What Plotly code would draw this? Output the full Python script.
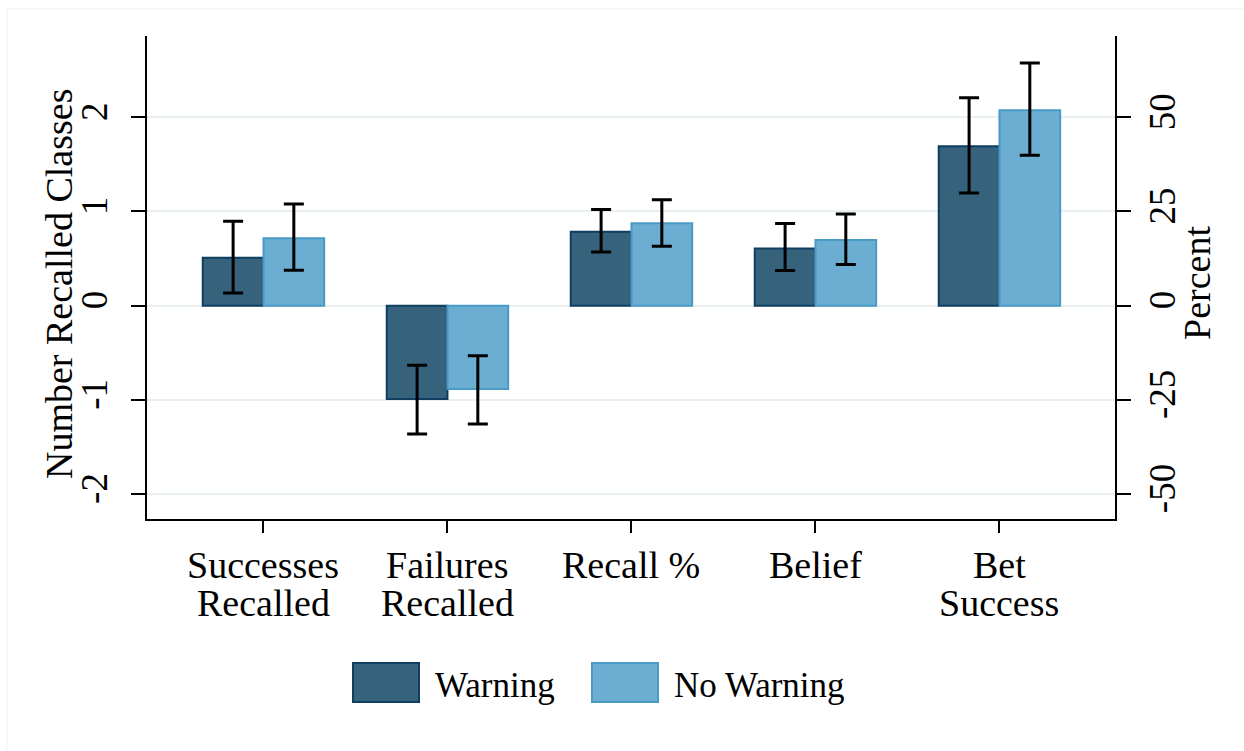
import plotly.graph_objects as go
import numpy as np

# ---- data -------------------------------------------------------------
categories = ["Successes Recalled", "Failures Recalled", "Recall %", "Belief", "Bet Success"]
category_lines = [["Successes", "Recalled"], ["Failures", "Recalled"], ["Recall %"], ["Belief"], ["Bet", "Success"]]

# outcomes measured in number of classes (left axis)
count_cats = ["Successes Recalled", "Failures Recalled"]
count_warning = [0.51, -0.99]
count_warning_lo = [0.135, -1.362]
count_warning_hi = [0.896, -0.633]
count_nowarning = [0.715, -0.884]
count_nowarning_lo = [0.376, -1.256]
count_nowarning_hi = [1.08, -0.531]

# outcomes measured in percent (right axis)
pct_cats = ["Recall %", "Belief", "Bet Success"]
pct_warning = [19.6, 15.2, 42.3]
pct_warning_lo = [14.25, 9.3, 29.9]
pct_warning_hi = [25.5, 21.8, 55.2]
pct_nowarning = [21.9, 17.4, 51.9]
pct_nowarning_lo = [15.8, 10.9, 39.9]
pct_nowarning_hi = [28.1, 24.3, 64.4]

left_ticks = [-2, -1, 0, 1, 2]
left_tick_text = ["-2", "-1", "0", "1", "2"]
right_ticks = [-50, -25, 0, 25, 50]
right_tick_text = ["-50", "-25", "0", "25", "50"]
pct_per_count = 25  # right axis units per left axis unit

# ---- style ------------------------------------------------------------
W, H = 1244, 751
ML, MR, MT, MB = 147, 129, 36, 232
FONT = "Liberation Serif, Times New Roman, serif"
C_WARN, C_WARN_LINE = "#36627c", "#0e3f60"
C_NOWARN, C_NOWARN_LINE = "#6cadd2", "#4a9ac6"
GRID = "#e8f0f2"
BAR_W = 0.33
y_range = [-2.265, 2.863]
x_range = [-0.633, 4.628]


def px_to_paper(px=None, py=None):
    pw, ph = W - ML - MR, H - MT - MB
    if px is not None:
        return (px - ML) / pw
    return (H - MB - py) / ph


def err(v, lo, hi):
    v, lo, hi = np.array(v), np.array(lo), np.array(hi)
    return dict(type="data", symmetric=False, array=hi - v, arrayminus=v - lo,
                color="black", thickness=3, width=10)


fig = go.Figure()


def add_bars(x, v, lo, hi, color, line, offset, yaxis, name):
    fig.add_trace(go.Bar(
        x=x, y=v, name=name, yaxis=yaxis, offset=offset, width=BAR_W,
        marker=dict(color=color, line=dict(color=line, width=2)),
        error_y=err(v, lo, hi), showlegend=False))


add_bars(count_cats, count_warning, count_warning_lo, count_warning_hi,
         C_WARN, C_WARN_LINE, -BAR_W, "y", "Warning")
add_bars(count_cats, count_nowarning, count_nowarning_lo, count_nowarning_hi,
         C_NOWARN, C_NOWARN_LINE, 0, "y", "No Warning")
add_bars(pct_cats, pct_warning, pct_warning_lo, pct_warning_hi,
         C_WARN, C_WARN_LINE, -BAR_W, "y2", "Warning")
add_bars(pct_cats, pct_nowarning, pct_nowarning_lo, pct_nowarning_hi,
         C_NOWARN, C_NOWARN_LINE, 0, "y2", "No Warning")

axis_common = dict(showline=True, linecolor="black", linewidth=2,
                   ticks="outside", ticklen=14, tickwidth=2, tickcolor="black",
                   zeroline=False, tickfont=dict(family=FONT, size=37, color="black"))

fig.update_layout(
    width=W, height=H, margin=dict(l=ML, r=MR, t=MT, b=MB),
    paper_bgcolor="white", plot_bgcolor="white",
    barmode="overlay", showlegend=False,
    font=dict(family=FONT, color="black"),
    xaxis=dict(type="category", categoryorder="array", categoryarray=categories,
               range=x_range, showgrid=False, showticklabels=False,
               showline=True, linecolor="black", linewidth=2,
               ticks="outside", ticklen=12, tickwidth=2, tickcolor="black"),
    yaxis=dict(range=y_range, tickvals=left_ticks, ticktext=left_tick_text, tickangle=-90,
               ticklabelstandoff=9,
               showgrid=True, gridcolor=GRID, gridwidth=2, **axis_common),
    yaxis2=dict(range=[r * pct_per_count for r in y_range], tickvals=right_ticks,
                ticktext=right_tick_text, tickangle=-90, overlaying="y", side="right",
                showgrid=False, **axis_common),
)

# axis titles
axis_titles = [("Number Recalled Classes", 59, 284), ("Percent", 1197, 283)]
for txt, cx, cy in axis_titles:
    fig.add_annotation(x=px_to_paper(px=cx), y=px_to_paper(py=cy), xref="paper", yref="paper",
                       text=txt, textangle=-90, showarrow=False,
                       xanchor="center", yanchor="middle",
                       font=dict(family=FONT, size=38, color="black"))

# category labels, one annotation per text line
line_tops = [542, 580]
for cat, lines in zip(categories, category_lines):
    for i, txt in enumerate(lines):
        fig.add_annotation(x=cat, xref="x", y=px_to_paper(py=line_tops[i]), yref="paper",
                           text=txt, showarrow=False, xanchor="center", yanchor="top",
                           font=dict(family=FONT, size=38, color="black"))

# legend: large swatches with labels
legend_items = [("Warning", C_WARN, C_WARN_LINE, 353), ("No Warning", C_NOWARN, C_NOWARN_LINE, 592)]
for label, fill, line, x0 in legend_items:
    fig.add_shape(type="rect", xref="paper", yref="paper",
                  x0=px_to_paper(px=x0), x1=px_to_paper(px=x0 + 66),
                  y0=px_to_paper(py=702), y1=px_to_paper(py=663),
                  fillcolor=fill, line=dict(color=line, width=2))
    fig.add_annotation(x=px_to_paper(px=x0 + 80), y=px_to_paper(py=685), xref="paper", yref="paper",
                       text=label, showarrow=False, xanchor="left", yanchor="middle",
                       font=dict(family=FONT, size=35, color="black"))

# faint outer frame of the graph region
fig.add_shape(type="rect", xref="paper", yref="paper", layer="below",
              x0=px_to_paper(px=7), x1=px_to_paper(px=W + 20),
              y0=px_to_paper(py=H + 20), y1=px_to_paper(py=9),
              line=dict(color="#efefef", width=1), fillcolor="rgba(0,0,0,0)")

fig.write_html("out.html")
